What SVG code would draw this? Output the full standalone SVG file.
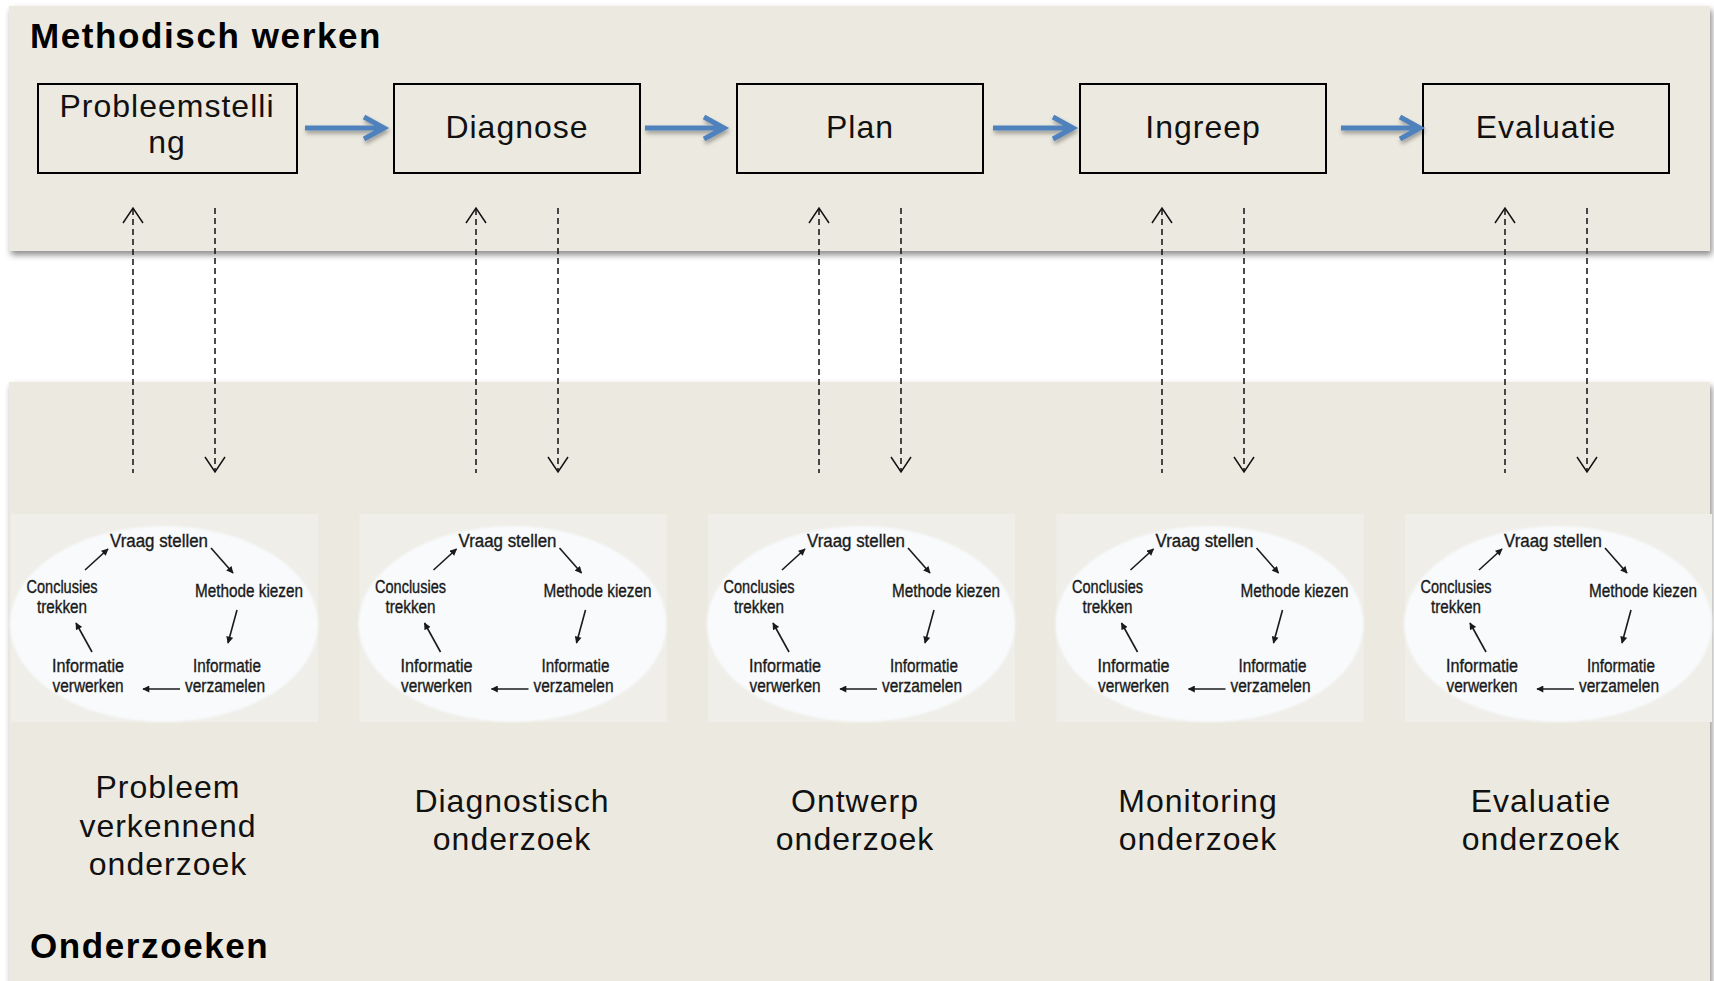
<svg xmlns="http://www.w3.org/2000/svg" width="1714" height="981" viewBox="0 0 1714 981">
<style>
.panel{fill:#ECEAE0;}
.title{font-family:"Liberation Sans",Arial,sans-serif;font-weight:bold;font-size:35px;letter-spacing:1.6px;fill:#000;}
.box{fill:#ECEAE0;stroke:#000;stroke-width:2;}
.bt{font-family:"Liberation Sans",Arial,sans-serif;font-size:32px;letter-spacing:1px;fill:#111;text-anchor:middle;}
.blue{stroke:#4F81BD;stroke-width:5;fill:none;}
.dash{stroke:#111;stroke-width:1.5;stroke-dasharray:6 4;fill:none;}
.head{stroke:#111;stroke-width:1.5;fill:none;}
.cyc{font-family:"Liberation Sans",Arial,sans-serif;font-size:18px;fill:#1a1a1a;stroke:#1a1a1a;stroke-width:0.35;text-anchor:middle;}
.ca{stroke:#1a1a1a;stroke-width:1.6;fill:none;}
.cbg{fill:#EFEEE9;}
.ell{fill:#F8FAFC;}
</style>
<defs>
<filter id="sh" x="-5%" y="-5%" width="110%" height="115%">
<feDropShadow dx="2" dy="4" stdDeviation="3" flood-color="#000" flood-opacity="0.45"/>
</filter>
<filter id="ash" x="-20%" y="-50%" width="140%" height="200%">
<feDropShadow dx="1" dy="3" stdDeviation="2" flood-color="#000" flood-opacity="0.35"/>
</filter>
<filter id="soft" x="-5%" y="-5%" width="110%" height="110%">
<feGaussianBlur stdDeviation="1"/>
</filter>
<marker id="ct" viewBox="0 0 10 10" refX="9" refY="5" markerWidth="8" markerHeight="7" orient="auto" markerUnits="userSpaceOnUse">
<path d="M0,0 L10,5 L0,10 Z" fill="#1a1a1a"/>
</marker>
<g id="cycle">
<rect class="cbg" x="11" y="514" width="307" height="208"/>
<ellipse class="ell" cx="164" cy="624" rx="154" ry="98" filter="url(#soft)"/>
<text class="cyc" x="159" y="547" textLength="98" lengthAdjust="spacingAndGlyphs">Vraag stellen</text>
<text class="cyc" x="249" y="597" textLength="108" lengthAdjust="spacingAndGlyphs">Methode kiezen</text>
<text class="cyc" x="62" y="593" textLength="71" lengthAdjust="spacingAndGlyphs">Conclusies</text>
<text class="cyc" x="62" y="613" textLength="50" lengthAdjust="spacingAndGlyphs">trekken</text>
<text class="cyc" x="88" y="672" textLength="72" lengthAdjust="spacingAndGlyphs">Informatie</text>
<text class="cyc" x="88" y="692" textLength="71" lengthAdjust="spacingAndGlyphs">verwerken</text>
<text class="cyc" x="227" y="672" textLength="68" lengthAdjust="spacingAndGlyphs">Informatie</text>
<text class="cyc" x="225" y="692" textLength="80" lengthAdjust="spacingAndGlyphs">verzamelen</text>
<line class="ca" x1="85" y1="570" x2="108" y2="549" marker-end="url(#ct)"/>
<line class="ca" x1="211" y1="548" x2="233" y2="573" marker-end="url(#ct)"/>
<line class="ca" x1="237" y1="610" x2="228" y2="643" marker-end="url(#ct)"/>
<line class="ca" x1="180" y1="689" x2="143" y2="689" marker-end="url(#ct)"/>
<line class="ca" x1="92" y1="652" x2="76" y2="623" marker-end="url(#ct)"/>
</g>
</defs>
<rect width="1714" height="981" fill="#FFFFFF"/>
<g id="panel-top">
<rect class="panel" x="9" y="6" width="1701" height="245" filter="url(#sh)"/>
<text class="title" x="30" y="48">Methodisch werken</text>
</g>
<g id="panel-bottom">
<rect class="panel" x="9" y="382" width="1701" height="610" filter="url(#sh)"/>
<text class="title" x="30" y="958">Onderzoeken</text>
</g>
<g id="node-probleemstelling">
<rect class="box" x="38" y="84" width="259" height="89"/>
<text class="bt" x="167" y="117">Probleemstelli</text>
<text class="bt" x="167" y="153">ng</text>
</g>
<g id="node-diagnose">
<rect class="box" x="394" y="84" width="246" height="89"/>
<text class="bt" x="517" y="138">Diagnose</text>
</g>
<g id="node-plan">
<rect class="box" x="737" y="84" width="246" height="89"/>
<text class="bt" x="860" y="138">Plan</text>
</g>
<g id="node-ingreep">
<rect class="box" x="1080" y="84" width="246" height="89"/>
<text class="bt" x="1203" y="138">Ingreep</text>
</g>
<g id="node-evaluatie">
<rect class="box" x="1423" y="84" width="246" height="89"/>
<text class="bt" x="1546" y="138">Evaluatie</text>
</g>
<g id="cycle-1"><use href="#cycle"/></g>
<g id="cycle-2"><use href="#cycle" transform="translate(348.5,0)"/></g>
<g id="cycle-3"><use href="#cycle" transform="translate(697,0)"/></g>
<g id="cycle-4"><use href="#cycle" transform="translate(1045.5,0)"/></g>
<g id="cycle-5"><use href="#cycle" transform="translate(1394,0)"/></g>
<g id="label-probleem">
<text class="bt" x="168" y="798">Probleem</text>
<text class="bt" x="168" y="837">verkennend</text>
<text class="bt" x="168" y="875">onderzoek</text>
</g>
<g id="label-diagnostisch">
<text class="bt" x="512" y="812">Diagnostisch</text>
<text class="bt" x="512" y="850">onderzoek</text>
</g>
<g id="label-ontwerp">
<text class="bt" x="855" y="812">Ontwerp</text>
<text class="bt" x="855" y="850">onderzoek</text>
</g>
<g id="label-monitoring">
<text class="bt" x="1198" y="812">Monitoring</text>
<text class="bt" x="1198" y="850">onderzoek</text>
</g>
<g id="label-evaluatie">
<text class="bt" x="1541" y="812">Evaluatie</text>
<text class="bt" x="1541" y="850">onderzoek</text>
</g>
<g id="connectors">
<g filter="url(#ash)">
<path class="blue" d="M305,128 H383 M364,117 L384,128 L364,139"/>
<path class="blue" d="M645,128 H723 M704,117 L724,128 L704,139"/>
<path class="blue" d="M993,128 H1072 M1053,117 L1073,128 L1053,139"/>
<path class="blue" d="M1341,128 H1419 M1400,117 L1420,128 L1400,139"/>
</g>
<g>
<line class="dash" x1="133" y1="209" x2="133" y2="473"/>
<path class="head" d="M123,223 L133,208 L143,223"/>
<line class="dash" x1="215" y1="208" x2="215" y2="471"/>
<path class="head" d="M205,457 L215,472 L225,457"/>
<line class="dash" x1="476" y1="209" x2="476" y2="473"/>
<path class="head" d="M466,223 L476,208 L486,223"/>
<line class="dash" x1="558" y1="208" x2="558" y2="471"/>
<path class="head" d="M548,457 L558,472 L568,457"/>
<line class="dash" x1="819" y1="209" x2="819" y2="473"/>
<path class="head" d="M809,223 L819,208 L829,223"/>
<line class="dash" x1="901" y1="208" x2="901" y2="471"/>
<path class="head" d="M891,457 L901,472 L911,457"/>
<line class="dash" x1="1162" y1="209" x2="1162" y2="473"/>
<path class="head" d="M1152,223 L1162,208 L1172,223"/>
<line class="dash" x1="1244" y1="208" x2="1244" y2="471"/>
<path class="head" d="M1234,457 L1244,472 L1254,457"/>
<line class="dash" x1="1505" y1="209" x2="1505" y2="473"/>
<path class="head" d="M1495,223 L1505,208 L1515,223"/>
<line class="dash" x1="1587" y1="208" x2="1587" y2="471"/>
<path class="head" d="M1577,457 L1587,472 L1597,457"/>
</g>
</g>
</svg>
